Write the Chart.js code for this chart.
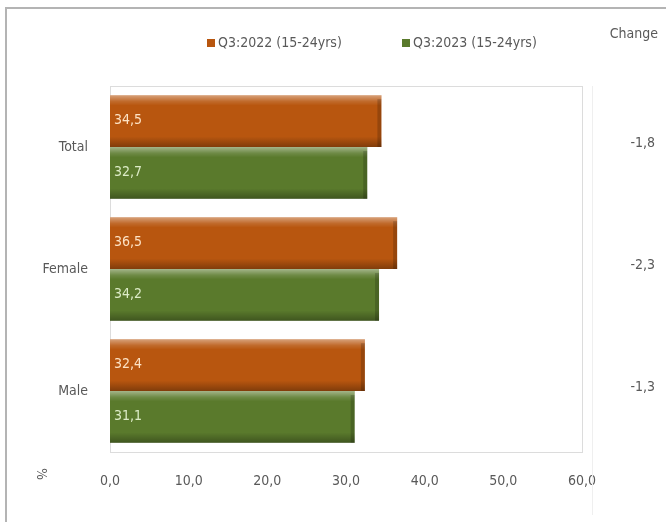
<!DOCTYPE html>
<html>
<head>
<meta charset="utf-8">
<script src="https://cdn.jsdelivr.net/npm/chart.js@4/dist/chart.umd.min.js"></script>
<style>
  html, body { margin: 0; padding: 0; background: #fff; }
  #wrap { position: relative; width: 666px; height: 522px; }
  #frame { position: absolute; left: 5px; top: 7px; width: 680px; height: 513px;
           border-left: 2px solid #b4b4b4; border-top: 2px solid #b4b4b4; border-bottom: 1px solid #e4e4e4; }
  canvas { position: absolute; left: 0; top: 0; }
</style>
</head>
<body>
<div id="wrap">
  <div id="frame"></div>
  <canvas id="youthChart" width="666" height="522"></canvas>
</div>
<script>
var categories = ['Total', 'Female', 'Male'];
var q3_2022 = [34.5, 36.5, 32.4];
var q3_2023 = [32.7, 34.2, 31.1];
var changes = ['-1,8', '-2,3', '-1,3'];
var seriesNames = ['Q3:2022 (15-24yrs)', 'Q3:2023 (15-24yrs)'];

var FONT = "'DejaVu Sans Condensed', 'DejaVu Sans', sans-serif";
var TEXT = '#595959';
var colors = ['#b8560f', '#5a7a2c'];
var labelColors = ['#fde2c4', '#dcebc6'];

function comma(v) { return v.toFixed(1).replace('.', ','); }

// frame, legend, change column, value labels and bar bevels
var extras = {
  id: 'extras',
  beforeDatasetsDraw: function (chart) {
    var a = chart.chartArea, c = chart.ctx;
    c.save();
    c.strokeStyle = '#dcdcdc';
    c.lineWidth = 1;
    c.strokeRect(a.left + 0.5, a.top + 0.5, a.right - a.left, a.bottom - a.top);
    c.strokeStyle = '#efefef';
    c.beginPath();
    c.moveTo(592.5, 86); c.lineTo(592.5, 515);
    c.stroke();
    c.restore();
  },
  afterDatasetsDraw: function (chart) {
    var c = chart.ctx;
    c.save();
    chart.data.datasets.forEach(function (ds, i) {
      chart.getDatasetMeta(i).data.forEach(function (bar, j) {
        var top = bar.y - bar.height / 2, h = bar.height;
        var left = bar.base, w = bar.x - bar.base;
        // bevel shading
        var g = c.createLinearGradient(0, top, 0, top + h);
        g.addColorStop(0, 'rgba(255,255,255,0.45)');
        g.addColorStop(0.12, 'rgba(255,255,255,0.12)');
        g.addColorStop(0.2, 'rgba(255,255,255,0)');
        g.addColorStop(0.8, 'rgba(0,0,0,0)');
        g.addColorStop(1, 'rgba(0,0,0,0.3)');
        c.fillStyle = g;
        c.fillRect(left, top, w, h);
        c.fillStyle = 'rgba(0,0,0,0.18)';
        c.fillRect(bar.x - 4, top + 4, 4, h - 4);
        // value label
        c.fillStyle = labelColors[i];
        c.font = '14px ' + FONT;
        c.textAlign = 'left';
        c.textBaseline = 'middle';
        c.fillText(comma(ds.data[j]), left + 4, bar.y - 1);
      });
    });

    // legend
    c.font = '14px ' + FONT;
    c.textBaseline = 'middle';
    c.textAlign = 'left';
    var lx = [207, 402];
    seriesNames.forEach(function (name, i) {
      c.fillStyle = colors[i];
      c.fillRect(lx[i], 39, 8, 8);
      c.fillStyle = TEXT;
      c.fillText(name, lx[i] + 11, 43);
    });

    // change column
    c.textAlign = 'right';
    c.fillText('Change', 658, 34);
    var ys = chart.scales.y;
    changes.forEach(function (t, j) {
      c.fillText(t, 655, ys.getPixelForValue(j) - 4);
    });

    // unit label on the value axis
    c.save();
    c.translate(41, 474);
    c.rotate(Math.PI / 2);
    c.textAlign = 'center';
    c.fillText('%', 0, 0);
    c.restore();
    c.restore();
  }
};

new Chart(document.getElementById('youthChart'), {
  type: 'bar',
  data: {
    labels: categories,
    datasets: [
      { label: seriesNames[0], data: q3_2022, backgroundColor: colors[0] },
      { label: seriesNames[1], data: q3_2023, backgroundColor: colors[1] }
    ]
  },
  options: {
    indexAxis: 'y',
    responsive: false,
    animation: false,
    categoryPercentage: 0.85,
    barPercentage: 1.0,
    layout: { padding: { left: 0, right: 84, top: 86, bottom: 0 } },
    plugins: { legend: { display: false }, tooltip: { enabled: false } },
    scales: {
      x: {
        min: 0, max: 60,
        grid: { display: false },
        border: { display: false },
        afterFit: function (s) { s.height = 70; },
        ticks: {
          stepSize: 10, padding: 13, color: TEXT,
          font: { family: FONT, size: 14 },
          callback: function (v) { return comma(v); }
        }
      },
      y: {
        grid: { display: false },
        border: { display: false },
        afterFit: function (s) { s.width = 110; },
        ticks: { color: TEXT, padding: 14, font: { family: FONT, size: 14 } }
      }
    }
  },
  plugins: [extras]
});
</script>
</body>
</html>
